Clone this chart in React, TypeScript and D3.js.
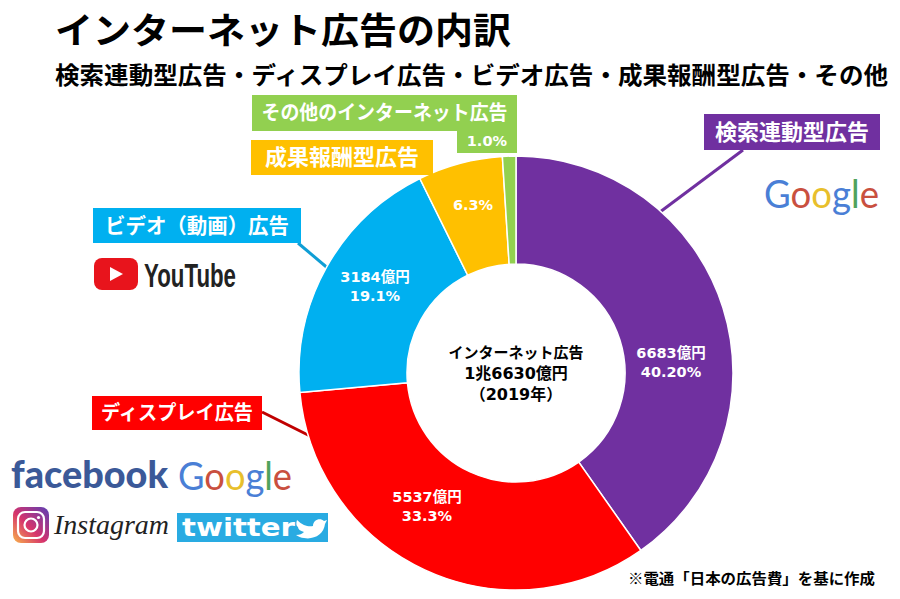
import React from "react";
import * as d3 from "d3";

const categories = ["検索連動型広告", "ディスプレイ広告", "ビデオ（動画）広告", "成果報酬型広告", "その他のインターネット広告"];
const shares = [40.2, 33.3, 19.1, 6.3, 1.0];
const colors = ["#7030a0", "#ff0000", "#00b0f0", "#ffc000", "#92d050"];
const sliceLabels = [["6683億円", "40.20%"], ["5537億円", "33.3%"], ["3184億円", "19.1%"], ["6.3%"], []];
const googleLetters = [["G", "#4a7fd6"], ["o", "#c9503f"], ["o", "#e8bf2c"], ["g", "#4a7fd6"], ["l", "#4fa35c"], ["e", "#c9503f"]];

const JP = "'Noto Sans CJK JP', sans-serif";
const NUM = "'DejaVu Sans', 'Noto Sans CJK JP', sans-serif";
const cx = 516, cy = 373, outer = 217, inner = 109;

const Box = ({ x, y, w, h, fill, text, size, tw }: any) => (
  <g>
    <rect x={x} y={y} width={w} height={h} fill={fill} />
    <text x={x + w / 2} y={y + h / 2 + size * 0.36} textAnchor="middle" fill="#fff" fontFamily={JP} fontWeight={700} fontSize={size} textLength={tw} lengthAdjust="spacingAndGlyphs">{text}</text>
  </g>
);

const Google = ({ x, y, size, w }: any) => (
  <text x={x} y={y} fontFamily="Lato, sans-serif" fontSize={size} textLength={w} lengthAdjust="spacingAndGlyphs">
    {googleLetters.map(([c, col], i) => <tspan key={i} fill={col}>{c}</tspan>)}
  </text>
);

export default function App() {
  const pie = d3.pie<number>().sort(null).value(d => d).startAngle(0).endAngle(2 * Math.PI);
  const arc = d3.arc<any>().innerRadius(inner).outerRadius(outer);
  const slices = pie(shares);
  const labelPos = [[671, 362], [427, 506], [375, 286], [473, 205]];
  const boxes = [
    { x: 704, y: 114, w: 176, h: 36, size: 22, tw: 154 },
    { x: 92, y: 396, w: 170, h: 34, size: 20, tw: 152 },
    { x: 93, y: 208, w: 208, h: 35, size: 21, tw: 184 },
    { x: 251, y: 140, w: 182, h: 35, size: 22, tw: 154 },
    { x: 252, y: 95, w: 265, h: 36, size: 20, tw: 246 },
  ];
  return (
    <svg width={900} height={599} viewBox="0 0 900 599" style={{ position: "absolute", left: 0, top: 0, background: "#fff" }}>
      <text x={55} y={44} fontFamily={JP} fontWeight={700} fontSize={36} fill="#000" textLength={456} lengthAdjust="spacingAndGlyphs">インターネット広告の内訳</text>
      <text x={55} y={84} fontFamily={JP} fontWeight={700} fontSize={24} fill="#000" textLength={833} lengthAdjust="spacingAndGlyphs">検索連動型広告・ディスプレイ広告・ビデオ広告・成果報酬型広告・その他</text>

      {/* leader lines */}
      <line x1={743} y1={150} x2={660} y2={212} stroke={colors[0]} strokeWidth={3} />
      <line x1={262} y1={412} x2={310} y2={436} stroke="#c00000" strokeWidth={3} />
      <line x1={298} y1={243} x2={330} y2={270} stroke="#0f9ed5" strokeWidth={3} />

      <g transform={`translate(${cx},${cy})`}>
        {slices.map((s, i) => (
          <path key={i} d={arc(s) as string} fill={colors[i]} stroke="#fff" strokeWidth={1.5} />
        ))}
      </g>

      {sliceLabels.map((lines, i) => lines.map((t, j) => (
        <text key={`${i}-${j}`} x={labelPos[i]?.[0]} y={(labelPos[i]?.[1] ?? 0) + j * 19 - (lines.length - 1) * 9.5 + 5} textAnchor="middle" fill="#fff" fontFamily={NUM} fontWeight={700} fontSize={14.5}>{t}</text>
      )))}

      {categories.map((c, i) => <Box key={c} {...boxes[i]} fill={colors[i]} text={c} />)}
      <rect x={457} y={131} width={60} height={22} fill={colors[4]} />
      <text x={507} y={146} textAnchor="end" fill="#fff" fontFamily={NUM} fontWeight={700} fontSize={14.5}>1.0%</text>

      <text textAnchor="middle" fontFamily={NUM} fontWeight={700} fontSize={16} fill="#000">
        <tspan x={516} y={358} fontFamily={JP} fontSize={15}>インターネット広告</tspan>
        <tspan x={516} y={379}>1兆6630億円</tspan>
        <tspan x={516} y={400}>（2019年）</tspan>
      </text>

      <text x={875} y={584} textAnchor="end" fontFamily={JP} fontWeight={700} fontSize={14.5} fill="#000" textLength={247} lengthAdjust="spacingAndGlyphs">※電通「日本の広告費」を基に作成</text>

      <Google x={764} y={208} size={39} w={115} />

      {/* YouTube */}
      <rect x={94} y={258} width={44} height={32} rx={8} fill="#e8141c" />
      <path d={d3.line()([[110, 267], [110, 281], [123, 274]]) + "Z"} fill="#fff" />
      <text x={144} y={287} fontFamily="'Liberation Sans Narrow', 'Liberation Sans', sans-serif" fontWeight={700} fontSize={33} fill="#222" textLength={92} lengthAdjust="spacingAndGlyphs">YouTube</text>

      {/* facebook / Google / Instagram / twitter */}
      <text x={11} y={488} fontFamily="Lato, sans-serif" fontWeight={900} fontSize={38} fill="#3b5998" textLength={157} lengthAdjust="spacingAndGlyphs">facebook</text>
      <Google x={178} y={490} size={39} w={114} />
      <defs>
        <linearGradient id="ig" x1="0" y1="1" x2="1" y2="0">
          <stop offset="0" stopColor="#f9b44a" />
          <stop offset="0.45" stopColor="#d6336c" />
          <stop offset="1" stopColor="#5b3fb5" />
        </linearGradient>
      </defs>
      <rect x={13} y={507} width={36} height={36} rx={8} fill="url(#ig)" />
      <rect x={18} y={512} width={26} height={26} rx={7} fill="none" stroke="#fff" strokeWidth={2.2} />
      <circle cx={31} cy={525} r={6.5} fill="none" stroke="#fff" strokeWidth={2.2} />
      <circle cx={38.5} cy={517.5} r={1.6} fill="#fff" />
      <text x={54} y={534} fontFamily="'Liberation Serif', serif" fontStyle="italic" fontSize={28} fill="#222" textLength={115} lengthAdjust="spacingAndGlyphs">Instagram</text>
      <rect x={177} y={513} width={151} height={29} fill="#29abe2" />
      <text x={182} y={536} fontFamily="'DejaVu Sans', sans-serif" fontWeight={700} fontSize={25} fill="#fff" textLength={113} lengthAdjust="spacingAndGlyphs">twitter</text>
      <path d="M297 520 C303 526 309 527 313 526 C313 520 320 517 324 521 L327 520 L325 524 C324 534 314 540 304 538 C301 538 298 536 296 535 C300 535 302 534 304 532 C300 531 298 529 298 527 C296 526 296 523 297 520 Z" fill="#fff" />
    </svg>
  );
}
